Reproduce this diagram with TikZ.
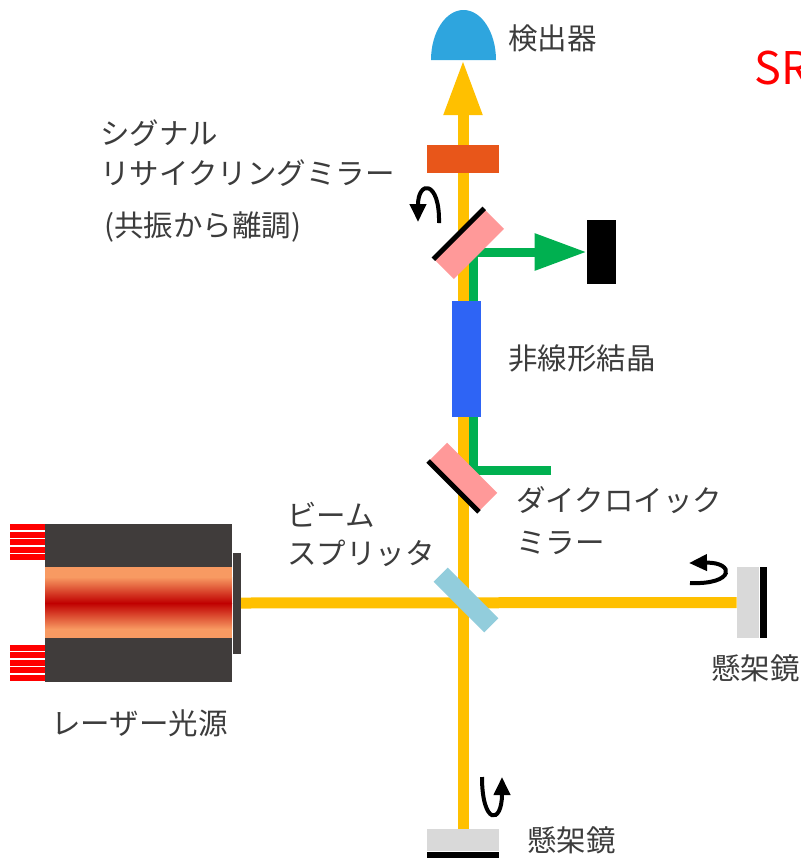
\documentclass[tikz,border=0pt]{standalone}
\usepackage{fontspec}
\setmainfont{Noto Sans CJK JP}
\usetikzlibrary{positioning, arrows.meta}

\begin{document}
\begin{tikzpicture}[x=0.5pt, y=-0.5pt, inner sep=0pt, font=\fontsize{14.75}{20}\selectfont,
        beam/.style={draw=beamyellow, line width=5.5pt},
        shg/.style={draw=shggreen, line width=4.5pt},
        optic/.style={rectangle, draw=none, inner sep=0pt},
        label/.style={anchor=west, align=left, text=textgray},
        turn/.style={line width=2pt, -{Triangle[width=8pt,length=9pt]}}]
        % Define colors
        \definecolor{beamyellow}{RGB}{255,192,0}
        \definecolor{shggreen}{RGB}{0,176,80}
        \definecolor{dichroic}{RGB}{255,153,153}
        \definecolor{srmorange}{RGB}{232,86,26}
        \definecolor{crystalblue}{RGB}{46,100,245}
        \definecolor{bsblue}{RGB}{146,205,220}
        \definecolor{detblue}{RGB}{46,165,222}
        \definecolor{mirrorgray}{RGB}{217,217,217}
        \definecolor{laserbody}{RGB}{64,60,59}
        \definecolor{coreorange}{RGB}{248,154,98}
        \definecolor{corered}{RGB}{192,0,0}
        \definecolor{textgray}{RGB}{60,60,60}

        \useasboundingbox (0,0) rectangle (800,858);

        % Laser
        \node[optic, fill=laserbody, minimum width=93.5pt, minimum height=79pt] (laser) at (138.5,603) {};
        \node[optic, fill=laserbody, minimum width=4pt, minimum height=50.5pt, right=0pt of laser] (laserfront) {};
        \fill[coreorange] (45,567) rectangle (232,577);
        \shade[top color=coreorange, bottom color=corered] (45,577) rectangle (232,603);
        \shade[top color=corered, bottom color=coreorange] (45,603) rectangle (232,629);
        \fill[coreorange] (45,629) rectangle (232,638);
        \foreach \k in {0,...,4} {
            \fill[red] (10,524+7.6*\k) rectangle (45,530+7.6*\k);
            \fill[red] (10,644.5+7.6*\k) rectangle (45,650.5+7.6*\k);
        }

        % Optics
        \node[optic, fill=mirrorgray, minimum width=11pt, minimum height=35.5pt] (rmirror) at (748,602.5) {};
        \node[optic, fill=black, minimum width=3.5pt, minimum height=35.5pt, right=0pt of rmirror] (rmirrorback) {};
        \node[optic, fill=mirrorgray, minimum width=36pt, minimum height=11pt] (bmirror) at (463,840) {};
        \node[optic, fill=black, minimum width=36pt, minimum height=3.5pt, below=0pt of bmirror] (bmirrorback) {};
        \coordinate (det) at (463,60);
        \node[optic, fill=black, minimum width=14.5pt, minimum height=32pt] (dump) at (601.5,252) {};

        % Beams
        \draw[beam] (laserfront.east) -- (rmirror.west);
        \draw[beam, -{Triangle[width=18pt,length=27.5pt]}] (bmirror.north) -- (det);
        \coordinate (gin) at (551,470);
        \coordinate (gdown) at (473,470);
        \coordinate (gup) at (473,252);
        \draw[shg, -{Triangle[width=17.5pt,length=26pt]}] (gin) -- (gdown) -- (gup) -- (dump.west);

        % Components on the beam line
        \node[optic, fill=bsblue, minimum width=35.75pt, minimum height=10pt, rotate=-45] (bs) at (466,600) {};
        \node[optic, fill=dichroic, minimum width=35.5pt, minimum height=13pt, rotate=-45] (dmlow) at (463,477) {};
        \draw[line width=2.5pt] (dmlow.south west) -- (dmlow.south east);
        \node[optic, fill=crystalblue, minimum width=14.5pt, minimum height=58pt] (crystal) at (466.5,359) {};
        \node[optic, fill=dichroic, minimum width=35.5pt, minimum height=14pt, rotate=45] (dmup) at (469,244) {};
        \draw[line width=2.5pt] (dmup.north west) -- (dmup.north east);
        \node[optic, fill=srmorange, minimum width=36pt, minimum height=14pt] (srm) at (463,159) {};
        \fill[detblue] (431,60) arc[start angle=180, end angle=0, x radius=16.25pt, y radius=25pt] -- cycle;

        % Rotation arrows
        \draw[turn] (439,223) .. controls (440,180) and (418,180) .. (418,222);
        \draw[turn] (690,583) .. controls (735,585) and (735,562) .. (689,563);
        \draw[turn] (482,777) .. controls (482,825) and (502,825) .. (502,777);

        % Labels
        \node[label] (lbldet) at (508,38) {検出器};
        \node[anchor=west, text=red, font=\fontsize{22.5}{26}\selectfont] (lblsr) at (754,68) {SR};
        \node[label, font=\fontsize{14.75}{20}\selectfont] (lblsrm) at (100,153) {シグナル\\リサイクリングミラー};
        \node[label] (lbldetune) at (104,227) {(共振から離調)};
        \node[label] (lblcrystal) at (508,358) {非線形結晶};
        \node[label, font=\fontsize{14.75}{21}\selectfont] (lbldm) at (516,521) {ダイクロイック\\ミラー};
        \node[label, font=\fontsize{14.75}{19}\selectfont] (lblbs) at (287,534) {ビーム\\スプリッタ};
        \node[label] (lbllaser) at (51,723) {レーザー光源};
        \node[label] (lblrm) at (711,668) {懸架鏡};
        \node[label] (lblbm) at (527,840) {懸架鏡};
    \end{tikzpicture}
\end{document}
